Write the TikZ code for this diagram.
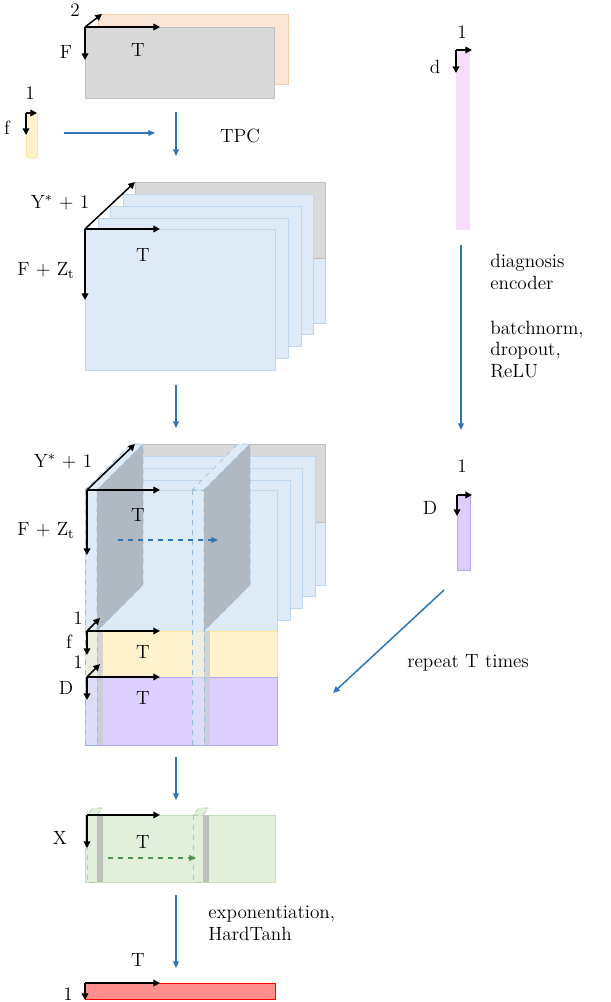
\documentclass[tikz,border=0pt]{standalone}
\usetikzlibrary{arrows.meta}
\definecolor{gfill}{HTML}{D9D9D9}\definecolor{gline}{HTML}{BFBFBF}
\definecolor{ofill}{HTML}{FBE5D6}\definecolor{oline}{HTML}{F8CBAD}
\definecolor{bfill}{HTML}{DEEBF7}\definecolor{bline}{HTML}{BDD7EE}
\definecolor{yfill}{HTML}{FFF2CC}\definecolor{yline}{HTML}{FFE699}
\definecolor{pfill}{HTML}{DCCFFF}\definecolor{pline}{HTML}{B4A7F5}
\definecolor{kfill}{HTML}{F6DDFB}
\definecolor{grfill}{HTML}{E2EFDA}\definecolor{grline}{HTML}{C5E0B4}
\definecolor{rfill}{HTML}{FF8F8F}
\definecolor{arr}{HTML}{2E75B6}
\definecolor{slab}{HTML}{B0B8C2}
\begin{document}
\begin{tikzpicture}[x=0.6pt,y=-0.6pt,
  ax/.style={-{Triangle[length=4pt,width=4pt]},line width=0.9pt,black},
  flow/.style={-{Triangle[length=4pt,width=3.5pt]},line width=0.9pt,arr},
  lbl/.style={font=\fontsize{11.5}{13}\selectfont,inner sep=0pt},
  txt/.style={lbl,align=left,anchor=north west,text width=80},
  gr/.style={fill=gfill,draw=gline,line width=0.6pt},
  bl/.style={fill=bfill,draw=bline,line width=0.6pt},
  dsh/.style={dashed,line width=0.4pt}]
\useasboundingbox (0,0) rectangle (610,1002);
% ---- top input
\draw[fill=ofill,draw=oline,line width=0.6pt] (98,14) rectangle (288,84);
\draw[gr] (85,27) rectangle (274,98);
\coordinate (o1) at (85,27);
\draw[ax] (o1) -- (160,27); \draw[ax] (o1) -- (85,60); \draw[ax] (o1) -- (102,14);
\node[lbl] (l2) at (75,10) {2}; \node[lbl] (lF) at (66,52) {F}; \node[lbl] (lT1) at (138,50) {T};
\draw[fill=yfill,draw=yline,line width=0.6pt] (26,113) rectangle (37,157);
\coordinate (o2) at (26,113);
\draw[ax] (o2) -- (37,113); \draw[ax] (o2) -- (26,135);
\node[lbl] (l1a) at (30,93) {1}; \node[lbl] (lf) at (7,128) {f};
\coordinate (fa) at (64,133); \coordinate (fb) at (155,133);
\draw[flow] (fa) -- (fb);
\coordinate (t1a) at (176,112); \coordinate (t1b) at (176,156);
\draw[flow] (t1a) -- (t1b);
\node[lbl] (tpc) at (240,136) {TPC};
% ---- stack 1
\draw[bl] (135,182) rectangle (325,323);
\draw[gr] (135,182) rectangle (325,258);
\draw[bl] (123,194) rectangle (313,334);
\draw[bl] (110,206) rectangle (301,346);
\draw[bl] (98,218) rectangle (288,358);
\draw[bl] (85,229) rectangle (275,370);
\coordinate (o3) at (85,229);
\draw[ax] (o3) -- (160,229); \draw[ax] (o3) -- (85,300); \draw[ax] (o3) -- (135,182);
\node[lbl] (ly1) at (60,203) {Y$^*$ + 1}; \node[lbl] (lz1) at (46,270) {F + Z$_\mathrm{t}$}; \node[lbl] (lT2) at (143,255) {T};
\coordinate (t2a) at (176,385); \coordinate (t2b) at (176,428);
\draw[flow] (t2a) -- (t2b);
% ---- stack 2
\draw[bl] (135,444) rectangle (325,585);
\draw[gr] (135,444) rectangle (325,522);
\draw[bl] (123,456) rectangle (315,596);
\draw[bl] (110,468) rectangle (302,608);
\draw[bl] (98,480) rectangle (290,620);
\draw[bl] (85,490) rectangle (277,631);
\draw[fill=yfill,draw=yline,line width=0.6pt] (85,631) rectangle (277,677);
\draw[fill=pfill,draw=pline,line width=0.6pt] (85,677) rectangle (277,745);
% slabs
\foreach \sx in {85,192}{
  \fill[slab!70,opacity=0.8] (\sx+12,631) rectangle (\sx+18,745);
  \draw[dsh,draw=arr!50,fill=bfill,fill opacity=0.5] (\sx,490) rectangle (\sx+12,745);
  \draw[dsh,draw=arr!50,fill=bfill] (\sx,490) -- (\sx+12,490) -- (\sx+58,444) -- (\sx+46,444) -- cycle;
  \draw[dsh,draw=arr!50,fill=slab] (\sx+12,490) -- (\sx+58,444) -- (\sx+58,585) -- (\sx+12,631) -- cycle;
}
\coordinate (da) at (118,540); \coordinate (db) at (218,540);
\draw[flow,dashed,line width=0.7pt] (da) -- (db);
\coordinate (o4) at (87,490);
\draw[ax] (o4) -- (160,490); \draw[ax] (o4) -- (87,555); \draw[ax] (o4) -- (135,444);
\node[lbl] (ly2) at (63,462) {Y$^*$ + 1}; \node[lbl] (lz2) at (46,530) {F + Z$_\mathrm{t}$}; \node[lbl] (lT3) at (138,515) {T};
\coordinate (o5) at (87,631);
\draw[ax] (o5) -- (160,631); \draw[ax] (o5) -- (87,655); \draw[ax] (o5) -- (100,618);
\node[lbl] (l1b) at (78,618) {1}; \node[lbl] (lf2) at (69,642) {f}; \node[lbl] (lT4) at (143,652) {T};
\coordinate (o6) at (87,677);
\draw[ax] (o6) -- (160,677); \draw[ax] (o6) -- (87,700); \draw[ax] (o6) -- (100,664);
\node[lbl] (l1c) at (78,662) {1}; \node[lbl] (lD2) at (66,688) {D}; \node[lbl] (lT5) at (143,698) {T};
\coordinate (t3a) at (176,757); \coordinate (t3b) at (176,800);
\draw[flow] (t3a) -- (t3b);
% ---- green
\draw[fill=grfill,draw=grline,line width=0.6pt] (85,815) rectangle (275,882);
\foreach \sx in {87,193}{
  \fill[gline] (\sx+10,815) rectangle (\sx+16,882);
  \draw[dsh,draw=grline!70!black!60,fill=grfill,fill opacity=0.6] (\sx,815) rectangle (\sx+10,882);
  \draw[dsh,draw=grline!70!black!60,fill=grfill] (\sx,815) -- (\sx+10,815) -- (\sx+16,808) -- (\sx+6,808) -- cycle;
}
\coordinate (ga) at (108,858); \coordinate (gb) at (196,858);
\draw[-{Triangle[length=4pt,width=3.5pt]},dashed,line width=0.7pt,green!40!black!70] (ga) -- (gb);
\coordinate (o7) at (87,815);
\draw[ax] (o7) -- (160,815); \draw[ax] (o7) -- (87,848);
\node[lbl] (lX) at (60,838) {X}; \node[lbl] (lT6) at (143,842) {T};
\coordinate (t4a) at (176,895); \coordinate (t4b) at (176,968);
\draw[flow] (t4a) -- (t4b);
\node[txt] (exp) at (208,906) {exponentiation,\\HardTanh};
% ---- red
\draw[fill=rfill,draw=red,line width=0.6pt] (85,983) rectangle (275,999);
\coordinate (o8) at (85,983);
\draw[ax] (o8) -- (160,983); \draw[ax] (o8) -- (85,1000);
\node[lbl] (lT7) at (138,960) {T}; \node[lbl] (l1d) at (68,994) {1};
% ---- right column
\fill[kfill] (456,50) rectangle (470,230);
\coordinate (o9) at (456,50);
\draw[ax] (o9) -- (472,50); \draw[ax] (o9) -- (456,73);
\node[lbl] (l1e) at (462,32) {1}; \node[lbl] (ld) at (435,67) {d};
\coordinate (ra) at (461,245); \coordinate (rb) at (461,430);
\draw[flow] (ra) -- (rb);
\node[txt] (enc) at (490,254) {diagnosis\\encoder\\[14pt]batchnorm,\\dropout,\\ReLU};
\draw[fill=pfill,draw=pline,line width=0.6pt] (457,495) rectangle (470,570);
\coordinate (o10) at (457,495);
\draw[ax] (o10) -- (472,495); \draw[ax] (o10) -- (457,516);
\node[lbl] (l1f) at (462,466) {1}; \node[lbl] (lD3) at (430,508) {D};
\coordinate (rpa) at (444,590); \coordinate (rpb) at (333,693);
\draw[flow] (rpa) -- (rpb);
\node[lbl,anchor=west] (rep) at (407,663) {repeat T times};
\end{tikzpicture}
\end{document}
